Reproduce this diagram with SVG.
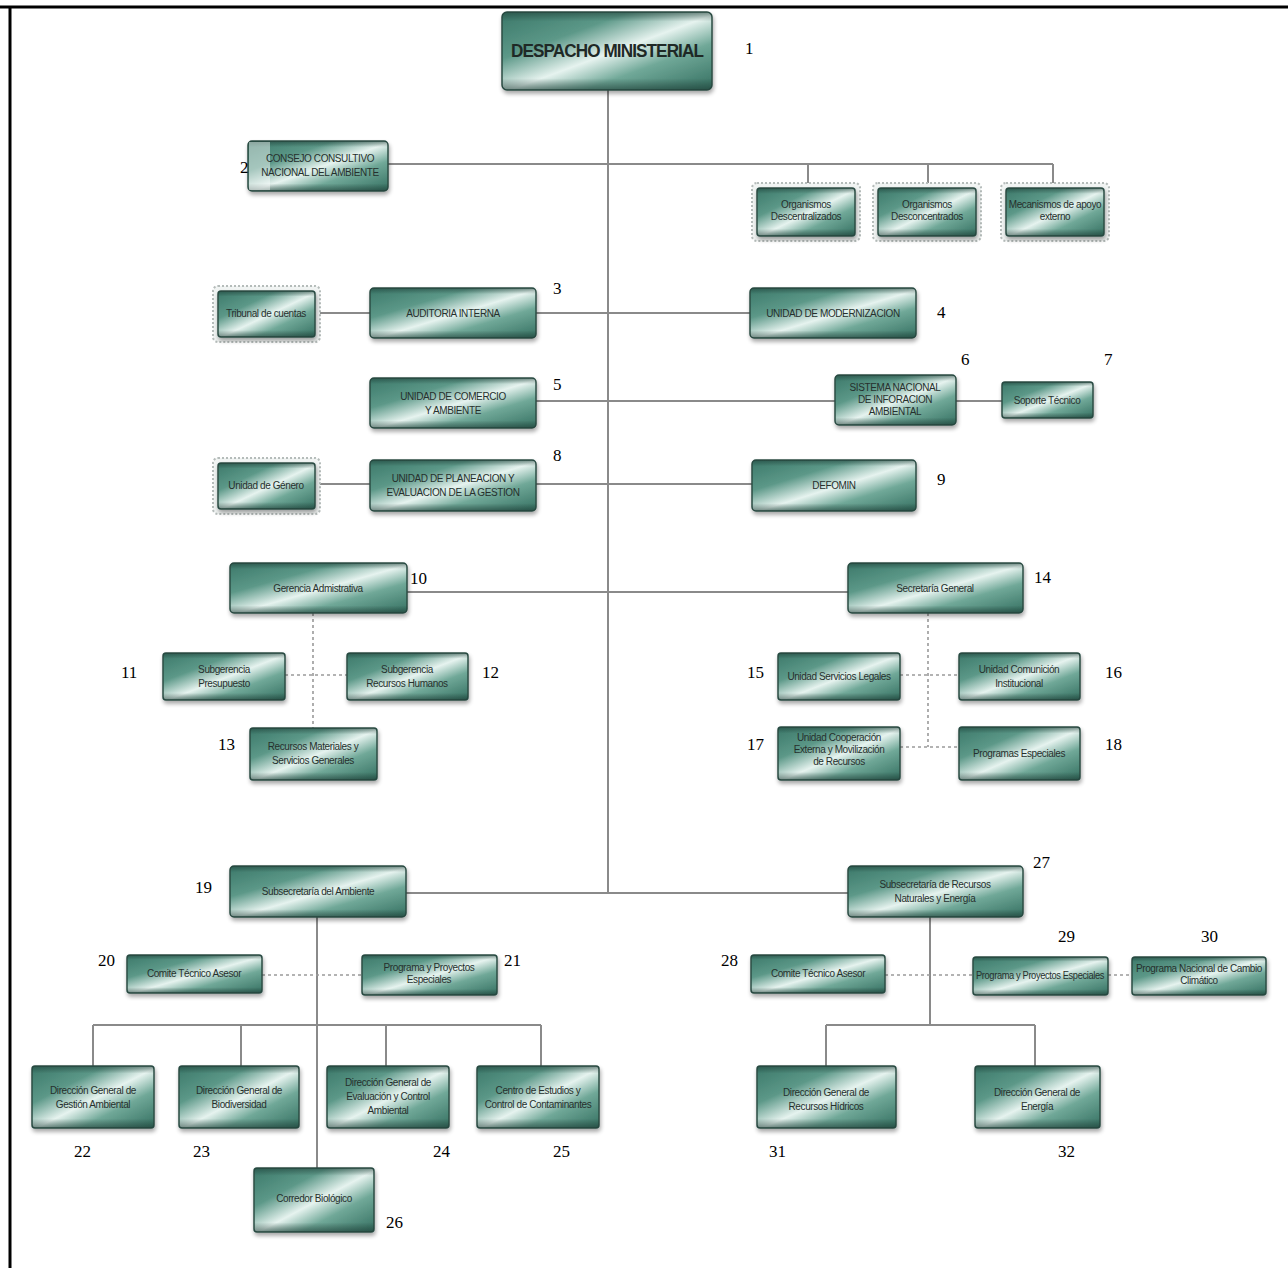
<svg xmlns="http://www.w3.org/2000/svg" width="1288" height="1268" viewBox="0 0 1288 1268">
  <defs>
    <linearGradient id="teal" x1="0" y1="0" x2="1" y2="1">
      <stop offset="0" stop-color="#3b7869"/>
      <stop offset="0.3" stop-color="#5c9888"/>
      <stop offset="0.52" stop-color="#e6f3ef"/>
      <stop offset="0.7" stop-color="#70a898"/>
      <stop offset="1" stop-color="#346f60"/>
    </linearGradient>
    <linearGradient id="vshade" x1="0" y1="0" x2="0" y2="1">
      <stop offset="0" stop-color="#1f3d36" stop-opacity="0.55"/>
      <stop offset="0.12" stop-color="#1f3d36" stop-opacity="0"/>
      <stop offset="0.85" stop-color="#1f3d36" stop-opacity="0"/>
      <stop offset="1" stop-color="#1f3d36" stop-opacity="0.6"/>
    </linearGradient>
    <filter id="sh" x="-10%" y="-10%" width="125%" height="135%">
      <feGaussianBlur in="SourceAlpha" stdDeviation="2"/>
      <feOffset dx="1" dy="3" result="b"/>
      <feComponentTransfer><feFuncA type="linear" slope="0.35"/></feComponentTransfer>
      <feMerge><feMergeNode/><feMergeNode in="SourceGraphic"/></feMerge>
    </filter>
    <style>
      .box { fill: url(#teal); stroke: #2b4d44; stroke-width: 1.5; filter: url(#sh); }
      .shade { fill: url(#vshade); pointer-events: none; }
      .stamp { fill: #f1f4f3; stroke: #b5bcba; stroke-width: 2; stroke-dasharray: 2 2; }
      .t { font-family: "Liberation Sans", Arial, sans-serif; fill: #26302d; text-anchor: middle; font-size: 10px; letter-spacing: -0.4px; }
      .tb { font-family: "Liberation Sans", Arial, sans-serif; fill: #1f2926; text-anchor: middle; font-size: 19px; font-weight: bold; letter-spacing: -1px; }
      .num { font-family: "Liberation Serif", "Times New Roman", serif; font-size: 17px; fill: #000; }
      .ln { stroke: #8a8a8a; stroke-width: 2; fill: none; }
      .dl { stroke: #9a9a9a; stroke-width: 1.6; fill: none; stroke-dasharray: 3 3; }
      .frame { stroke: #000; stroke-width: 3; fill: none; }
    </style>
  </defs>

  <rect width="1288" height="1268" fill="#fff"/>

  <!-- page frame -->
  <path class="frame" d="M0 7 H1288 M10 7 V1268"/>

  <!-- connectors -->
  <g id="connectors">
    <path class="ln" d="M608 90 V893"/>
    <path class="ln" d="M388 164 H1053 M808 164 V188 M928 164 V188 M1053 164 V188"/>
    <path class="ln" d="M320 313 H370 M536 313 H750"/>
    <path class="ln" d="M536 401 H835 M956 401 H1002"/>
    <path class="ln" d="M320 484 H370 M536 484 H752"/>
    <path class="ln" d="M407 592 H848"/>
    <path class="dl" d="M313 613 V728 M285 675 H347"/>
    <path class="dl" d="M928 613 V747 M900 675 H959 M900 747 H959"/>
    <path class="ln" d="M406 893 H848"/>
    <path class="ln" d="M317 917 V1168"/>
    <path class="dl" d="M262 975 H362"/>
    <path class="ln" d="M93 1025 H541 M93 1025 V1066 M241 1025 V1066 M386 1025 V1066 M541 1025 V1066"/>
    <path class="ln" d="M930 917 V1025 M826 1025 H1035 M826 1025 V1066 M1035 1025 V1066"/>
    <path class="dl" d="M885 975 H973 M1108 975 H1132"/>
  </g>

  <!-- nodes -->
  <g id="n1">
    <rect class="box" x="502" y="12" width="210" height="78" rx="5"/>
    <rect class="shade" x="502" y="12" width="210" height="78" rx="5"/>
    <text class="tb" x="607" y="57" textLength="192" lengthAdjust="spacingAndGlyphs">DESPACHO MINISTERIAL</text>
  </g>

  <g id="n2">
    <rect class="box" x="248" y="141" width="140" height="50" rx="4"/>
    <rect class="shade" x="248" y="141" width="140" height="50" rx="4"/>
    <rect x="249" y="142" width="21" height="48" fill="#ffffff" opacity="0.45"/>
    <text class="t" x="320" y="162">CONSEJO CONSULTIVO</text>
    <text class="t" x="320" y="176">NACIONAL DEL AMBIENTE</text>
  </g>

  <g id="org1">
    <rect class="stamp" x="752" y="183" width="108" height="58" rx="5"/>
    <rect class="box" x="757" y="188" width="98" height="48" rx="3"/>
    <rect class="shade" x="757" y="188" width="98" height="48" rx="3"/>
    <text class="t" x="806" y="208" font-size="8.5">Organismos</text>
    <text class="t" x="806" y="220" font-size="8.5">Descentralizados</text>
  </g>
  <g id="org2">
    <rect class="stamp" x="873" y="183" width="108" height="58" rx="5"/>
    <rect class="box" x="878" y="188" width="98" height="48" rx="3"/>
    <rect class="shade" x="878" y="188" width="98" height="48" rx="3"/>
    <text class="t" x="927" y="208" font-size="8.5">Organismos</text>
    <text class="t" x="927" y="220" font-size="8.5">Desconcentrados</text>
  </g>
  <g id="org3">
    <rect class="stamp" x="1001" y="183" width="108" height="58" rx="5"/>
    <rect class="box" x="1006" y="188" width="98" height="48" rx="3"/>
    <rect class="shade" x="1006" y="188" width="98" height="48" rx="3"/>
    <text class="t" x="1055" y="208" font-size="8.5">Mecanismos de apoyo</text>
    <text class="t" x="1055" y="220" font-size="8.5">externo</text>
  </g>

  <g id="tribunal">
    <rect class="stamp" x="213" y="286" width="107" height="56" rx="5"/>
    <rect class="box" x="218" y="291" width="97" height="46" rx="3"/>
    <rect class="shade" x="218" y="291" width="97" height="46" rx="3"/>
    <text class="t" x="266" y="317">Tribunal de cuentas</text>
  </g>
  <g id="n3">
    <rect class="box" x="370" y="288" width="166" height="50" rx="4"/>
    <rect class="shade" x="370" y="288" width="166" height="50" rx="4"/>
    <text class="t" x="453" y="317">AUDITORIA INTERNA</text>
  </g>
  <g id="n4">
    <rect class="box" x="750" y="288" width="166" height="50" rx="4"/>
    <rect class="shade" x="750" y="288" width="166" height="50" rx="4"/>
    <text class="t" x="833" y="317">UNIDAD DE MODERNIZACION</text>
  </g>

  <g id="n5">
    <rect class="box" x="370" y="378" width="166" height="50" rx="4"/>
    <rect class="shade" x="370" y="378" width="166" height="50" rx="4"/>
    <text class="t" x="453" y="400">UNIDAD DE COMERCIO</text>
    <text class="t" x="453" y="414">Y AMBIENTE</text>
  </g>
  <g id="n6">
    <rect class="box" x="835" y="375" width="121" height="50" rx="4"/>
    <rect class="shade" x="835" y="375" width="121" height="50" rx="4"/>
    <text class="t" x="895" y="391" font-size="9">SISTEMA NACIONAL</text>
    <text class="t" x="895" y="403" font-size="9">DE INFORACION</text>
    <text class="t" x="895" y="415" font-size="9">AMBIENTAL</text>
  </g>
  <g id="n7">
    <rect class="box" x="1002" y="382" width="91" height="36" rx="3"/>
    <rect class="shade" x="1002" y="382" width="91" height="36" rx="3"/>
    <text class="t" x="1047" y="404">Soporte Técnico</text>
  </g>

  <g id="genero">
    <rect class="stamp" x="213" y="458" width="107" height="56" rx="5"/>
    <rect class="box" x="218" y="463" width="97" height="46" rx="3"/>
    <rect class="shade" x="218" y="463" width="97" height="46" rx="3"/>
    <text class="t" x="266" y="489">Unidad de Género</text>
  </g>
  <g id="n8">
    <rect class="box" x="370" y="460" width="166" height="51" rx="4"/>
    <rect class="shade" x="370" y="460" width="166" height="51" rx="4"/>
    <text class="t" x="453" y="482">UNIDAD DE PLANEACION Y</text>
    <text class="t" x="453" y="496">EVALUACION DE LA GESTION</text>
  </g>
  <g id="n9">
    <rect class="box" x="752" y="460" width="164" height="51" rx="4"/>
    <rect class="shade" x="752" y="460" width="164" height="51" rx="4"/>
    <text class="t" x="834" y="489">DEFOMIN</text>
  </g>

  <g id="n10">
    <rect class="box" x="230" y="563" width="177" height="50" rx="4"/>
    <rect class="shade" x="230" y="563" width="177" height="50" rx="4"/>
    <text class="t" x="318" y="592">Gerencia Admistrativa</text>
  </g>
  <g id="n11">
    <rect class="box" x="163" y="653" width="122" height="47" rx="3"/>
    <rect class="shade" x="163" y="653" width="122" height="47" rx="3"/>
    <text class="t" x="224" y="673">Subgerencia</text>
    <text class="t" x="224" y="687">Presupuesto</text>
  </g>
  <g id="n12">
    <rect class="box" x="347" y="653" width="121" height="47" rx="3"/>
    <rect class="shade" x="347" y="653" width="121" height="47" rx="3"/>
    <text class="t" x="407" y="673">Subgerencia</text>
    <text class="t" x="407" y="687">Recursos Humanos</text>
  </g>
  <g id="n13">
    <rect class="box" x="250" y="728" width="127" height="52" rx="3"/>
    <rect class="shade" x="250" y="728" width="127" height="52" rx="3"/>
    <text class="t" x="313" y="750">Recursos Materiales y</text>
    <text class="t" x="313" y="764">Servicios Generales</text>
  </g>

  <g id="n14">
    <rect class="box" x="848" y="563" width="175" height="50" rx="4"/>
    <rect class="shade" x="848" y="563" width="175" height="50" rx="4"/>
    <text class="t" x="935" y="592">Secretaría General</text>
  </g>
  <g id="n15">
    <rect class="box" x="778" y="653" width="122" height="47" rx="3"/>
    <rect class="shade" x="778" y="653" width="122" height="47" rx="3"/>
    <text class="t" x="839" y="680">Unidad Servicios Legales</text>
  </g>
  <g id="n16">
    <rect class="box" x="959" y="653" width="121" height="47" rx="3"/>
    <rect class="shade" x="959" y="653" width="121" height="47" rx="3"/>
    <text class="t" x="1019" y="673">Unidad Comunición</text>
    <text class="t" x="1019" y="687">Institucional</text>
  </g>
  <g id="n17">
    <rect class="box" x="778" y="727" width="122" height="53" rx="3"/>
    <rect class="shade" x="778" y="727" width="122" height="53" rx="3"/>
    <text class="t" x="839" y="741" font-size="9">Unidad Cooperación</text>
    <text class="t" x="839" y="753" font-size="9">Externa y Movilización</text>
    <text class="t" x="839" y="765" font-size="9">de Recursos</text>
  </g>
  <g id="n18">
    <rect class="box" x="959" y="727" width="121" height="53" rx="3"/>
    <rect class="shade" x="959" y="727" width="121" height="53" rx="3"/>
    <text class="t" x="1019" y="757">Programas Especiales</text>
  </g>

  <g id="n19">
    <rect class="box" x="230" y="866" width="176" height="51" rx="4"/>
    <rect class="shade" x="230" y="866" width="176" height="51" rx="4"/>
    <text class="t" x="318" y="895">Subsecretaría del Ambiente</text>
  </g>
  <g id="n20">
    <rect class="box" x="127" y="955" width="135" height="38" rx="3"/>
    <rect class="shade" x="127" y="955" width="135" height="38" rx="3"/>
    <text class="t" x="194" y="977" font-size="8.5">Comite Técnico Asesor</text>
  </g>
  <g id="n21">
    <rect class="box" x="362" y="955" width="135" height="40" rx="3"/>
    <rect class="shade" x="362" y="955" width="135" height="40" rx="3"/>
    <text class="t" x="429" y="971" font-size="8.5">Programa y Proyectos</text>
    <text class="t" x="429" y="983" font-size="8.5">Especiales</text>
  </g>
  <g id="n22">
    <rect class="box" x="32" y="1066" width="122" height="62" rx="3"/>
    <rect class="shade" x="32" y="1066" width="122" height="62" rx="3"/>
    <text class="t" x="93" y="1094">Dirección General de</text>
    <text class="t" x="93" y="1108">Gestión Ambiental</text>
  </g>
  <g id="n23">
    <rect class="box" x="179" y="1066" width="120" height="62" rx="3"/>
    <rect class="shade" x="179" y="1066" width="120" height="62" rx="3"/>
    <text class="t" x="239" y="1094">Dirección General de</text>
    <text class="t" x="239" y="1108">Biodiversidad</text>
  </g>
  <g id="n24">
    <rect class="box" x="327" y="1066" width="122" height="62" rx="3"/>
    <rect class="shade" x="327" y="1066" width="122" height="62" rx="3"/>
    <text class="t" x="388" y="1086">Dirección General de</text>
    <text class="t" x="388" y="1100">Evaluación y Control</text>
    <text class="t" x="388" y="1114">Ambiental</text>
  </g>
  <g id="n25">
    <rect class="box" x="477" y="1066" width="122" height="62" rx="3"/>
    <rect class="shade" x="477" y="1066" width="122" height="62" rx="3"/>
    <text class="t" x="538" y="1094">Centro de Estudios y</text>
    <text class="t" x="538" y="1108">Control de Contaminantes</text>
  </g>
  <g id="n26">
    <rect class="box" x="254" y="1168" width="120" height="64" rx="3"/>
    <rect class="shade" x="254" y="1168" width="120" height="64" rx="3"/>
    <text class="t" x="314" y="1202">Corredor Biológico</text>
  </g>

  <g id="n27">
    <rect class="box" x="848" y="866" width="175" height="51" rx="4"/>
    <rect class="shade" x="848" y="866" width="175" height="51" rx="4"/>
    <text class="t" x="935" y="888">Subsecretaría de Recursos</text>
    <text class="t" x="935" y="902">Naturales y Energía</text>
  </g>
  <g id="n28">
    <rect class="box" x="751" y="955" width="134" height="38" rx="3"/>
    <rect class="shade" x="751" y="955" width="134" height="38" rx="3"/>
    <text class="t" x="818" y="977" font-size="8.5">Comite Técnico Asesor</text>
  </g>
  <g id="n29">
    <rect class="box" x="973" y="957" width="135" height="38" rx="3"/>
    <rect class="shade" x="973" y="957" width="135" height="38" rx="3"/>
    <text class="t" x="1040" y="979" font-size="8" textLength="128" lengthAdjust="spacingAndGlyphs">Programa y Proyectos Especiales</text>
  </g>
  <g id="n30">
    <rect class="box" x="1132" y="957" width="134" height="38" rx="3"/>
    <rect class="shade" x="1132" y="957" width="134" height="38" rx="3"/>
    <text class="t" x="1199" y="972" font-size="8" textLength="126" lengthAdjust="spacingAndGlyphs">Programa Nacional de Cambio</text>
    <text class="t" x="1199" y="984" font-size="8">Climático</text>
  </g>
  <g id="n31">
    <rect class="box" x="757" y="1066" width="139" height="62" rx="3"/>
    <rect class="shade" x="757" y="1066" width="139" height="62" rx="3"/>
    <text class="t" x="826" y="1096">Dirección General de</text>
    <text class="t" x="826" y="1110">Recursos Hídricos</text>
  </g>
  <g id="n32">
    <rect class="box" x="975" y="1066" width="125" height="62" rx="3"/>
    <rect class="shade" x="975" y="1066" width="125" height="62" rx="3"/>
    <text class="t" x="1037" y="1096">Dirección General de</text>
    <text class="t" x="1037" y="1110">Energía</text>
  </g>

  <!-- reference numbers -->
  <g id="numbers" class="num">
    <text x="745" y="54">1</text>
    <text x="240" y="173">2</text>
    <text x="553" y="294">3</text>
    <text x="937" y="318">4</text>
    <text x="553" y="390">5</text>
    <text x="961" y="365">6</text>
    <text x="1104" y="365">7</text>
    <text x="553" y="461">8</text>
    <text x="937" y="485">9</text>
    <text x="410" y="584">10</text>
    <text x="121" y="678">11</text>
    <text x="482" y="678">12</text>
    <text x="218" y="750">13</text>
    <text x="1034" y="583">14</text>
    <text x="747" y="678">15</text>
    <text x="1105" y="678">16</text>
    <text x="747" y="750">17</text>
    <text x="1105" y="750">18</text>
    <text x="195" y="893">19</text>
    <text x="98" y="966">20</text>
    <text x="504" y="966">21</text>
    <text x="74" y="1157">22</text>
    <text x="193" y="1157">23</text>
    <text x="433" y="1157">24</text>
    <text x="553" y="1157">25</text>
    <text x="386" y="1228">26</text>
    <text x="1033" y="868">27</text>
    <text x="721" y="966">28</text>
    <text x="1058" y="942">29</text>
    <text x="1201" y="942">30</text>
    <text x="769" y="1157">31</text>
    <text x="1058" y="1157">32</text>
  </g>
</svg>
